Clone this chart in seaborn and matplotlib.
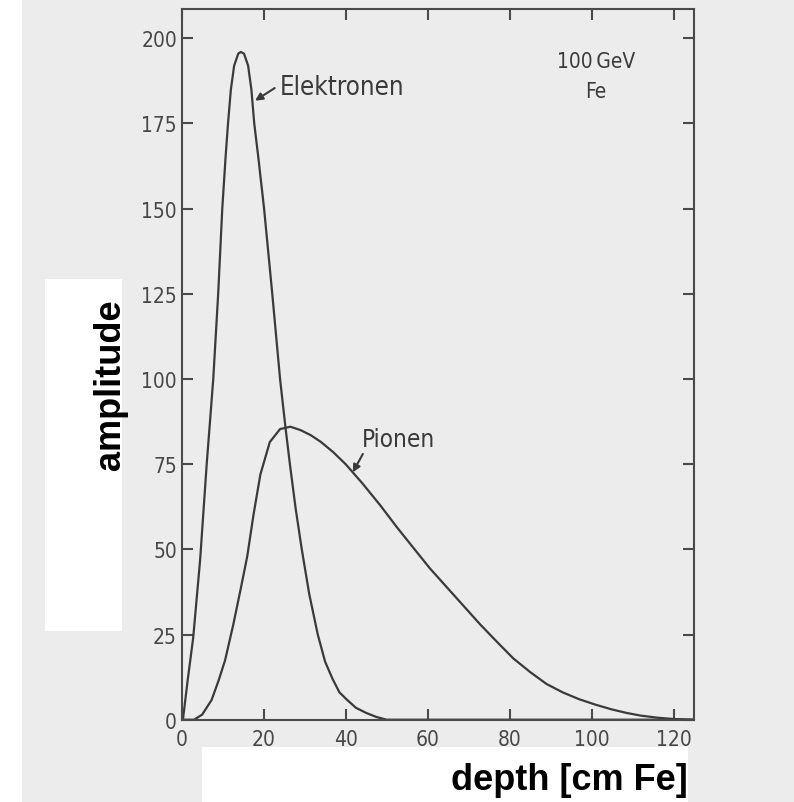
import matplotlib
matplotlib.use("Agg")
import matplotlib.pyplot as plt
from matplotlib.patches import Rectangle
import seaborn as sns
import pandas as pd

# ---- data ----
electron_depth = [0, 0.3, 1.5, 2.8, 4.5, 6.1, 7.7, 8.9, 9.9, 10.7, 11.3, 12.0, 12.8, 13.8,
                  14.4, 15.2, 16.2, 17.0, 17.7, 18.7, 20.1, 22.1, 24.0, 25.3, 26.4, 27.8,
                  29.3, 31.1, 33.2, 35.0, 36.8, 38.5, 40.2, 42.5, 45.0, 47.5, 50.0, 125]
electron_amp = [0, 0, 12, 24, 47, 75, 100, 125, 150, 165, 175, 185, 192, 195.5,
                196, 195.5, 192, 185, 175, 165, 150, 125, 100, 86, 75, 62,
                50, 37, 25, 17, 12, 8, 6, 3.5, 2, 0.8, 0, 0]

pion_depth = [0, 3.0, 5.0, 7.3, 9.0, 10.6, 12.6, 14.5, 16.0, 17.5, 19.2, 21.5, 24.0,
              26.5, 29.0, 31.5, 34.0, 37.0, 40.0, 44.0, 48.4, 52.5, 56.5, 60.5, 64.6,
              68.7, 72.8, 76.8, 80.9, 85.0, 89.0, 93.0, 97.0, 101.0, 105.0, 108.5,
              112.0, 116.0, 120.0, 125]
pion_amp = [0, 0, 1.5, 5.8, 11.5, 17.5, 28, 39, 48, 60, 72, 81.5, 85.3,
            86, 85, 83.5, 81.5, 78.5, 75, 69.5, 63, 56.5, 50.5, 44.5, 39,
            33.5, 28, 23, 18, 14, 10.5, 8, 6, 4.4, 3, 2,
            1.2, 0.6, 0.2, 0]

x_ticks = [0, 20, 40, 60, 80, 100, 120]
y_ticks = [0, 25, 50, 75, 100, 125, 150, 175, 200]

df_e = pd.DataFrame({"depth": electron_depth, "amplitude": electron_amp})
df_p = pd.DataFrame({"depth": pion_depth, "amplitude": pion_amp})

sns.set_theme(style="ticks")
plt.rcParams["font.family"] = ["DejaVu Sans"]
plt.rcParams["font.stretch"] = "condensed"
bold = ["Liberation Sans", "DejaVu Sans"]

W, H = 794, 803
fig = plt.figure(figsize=(W / 100, H / 100), dpi=100, facecolor="white")

gray = "#ececec"
ink = "#3a3a3a"
fig.patches.append(Rectangle((22 / W, 0), 1 - 22 / W, 1, transform=fig.transFigure,
                             facecolor=gray, edgecolor="none", zorder=-10))
fig.patches.append(Rectangle((45 / W, 1 - 632 / H), (122 - 45) / W, (632 - 280) / H,
                             transform=fig.transFigure, facecolor="white",
                             edgecolor="none", zorder=-5))
fig.patches.append(Rectangle((202 / W, 0), (688 - 202) / W, (H - 748) / H,
                             transform=fig.transFigure, facecolor="white",
                             edgecolor="none", zorder=-5))

left, right, top, bottom = 181.7, 694, 10, 720.7
ax = fig.add_axes([left / W, 1 - bottom / H, (right - left) / W, (bottom - top) / H])
ax.set_facecolor("none")

sns.lineplot(data=df_e, x="depth", y="amplitude", ax=ax, color=ink, lw=1.6,
             estimator=None, sort=False)
sns.lineplot(data=df_p, x="depth", y="amplitude", ax=ax, color=ink, lw=1.6,
             estimator=None, sort=False)

ax.set_xlim(0, 125)
ax.set_ylim(0, 208.6)
ax.set_xticks(x_ticks)
ax.set_yticks(y_ticks)
ax.set_xticklabels([str(v) for v in x_ticks])
ax.set_yticklabels([str(v) for v in y_ticks])
ax.set_xlabel("")
ax.set_ylabel("")
for s in ax.spines.values():
    s.set_visible(True)
    s.set_linewidth(1.5)
    s.set_color("#4a4a4a")
ax.tick_params(axis="both", direction="in", length=8, width=1.5, color="#4a4a4a",
               top=True, right=True, labelsize=15, labelcolor="#474747")
ax.tick_params(axis="x", pad=6.5)
ax.tick_params(axis="y", pad=3.4)

ax.text(23.95, 183.6, "Elektronen", fontsize=18.5, color=ink, ha="left", va="baseline")
ax.annotate("", xy=(17.9, 181.7), xytext=(22.7, 185.4),
            arrowprops=dict(arrowstyle="-|>", color=ink, lw=1.5, mutation_scale=11,
                            shrinkA=0, shrinkB=0))
ax.text(43.9, 80.3, "Pionen", fontsize=17.5, color=ink, ha="left", va="baseline")
ax.annotate("", xy=(41.75, 72.6), xytext=(44.2, 78.0),
            arrowprops=dict(arrowstyle="-|>", color=ink, lw=1.5, mutation_scale=11,
                            shrinkA=0, shrinkB=0))
ax.text(101.0, 193.3, "100\u2009GeV", fontsize=15, color=ink, ha="center", va="center")
ax.text(101.0, 184.5, "Fe", fontsize=15, color=ink, ha="center", va="center")

fig.text(688 / W, (H - 790) / H, "depth [cm Fe]", family=bold, weight="bold",
         stretch="normal", fontsize=26, color="black", ha="right", va="baseline")
fig.text(128 / W, 1 - 384.5 / H, "amplitude", family=bold, weight="bold",
         stretch="normal", fontsize=26, color="black", rotation=90, ha="right",
         va="center")

fig.savefig("out.png", dpi=100, facecolor=fig.get_facecolor())
